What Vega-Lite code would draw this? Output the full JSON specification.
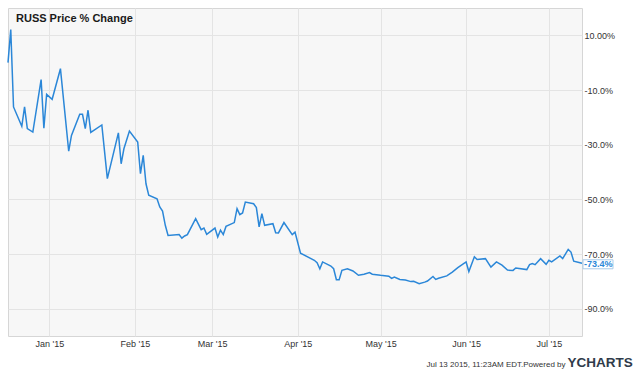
{
  "$schema": "https://vega.github.io/schema/vega-lite/v6.json",
  "width": 574,
  "height": 328,
  "autosize": {"type": "none"},
  "padding": {"left": 8, "top": 8, "right": 58, "bottom": 38},
  "background": "white",
  "config": {
    "view": {"fill": "#f7f7f7", "stroke": "#d6d6d6", "strokeWidth": 1},
    "font": "Liberation Sans"
  },
  "title": {
    "text": "RUSS Price % Change",
    "anchor": "start",
    "frame": "group",
    "orient": "top",
    "offset": -25,
    "dx": 8,
    "fontSize": 11,
    "fontWeight": "bold",
    "color": "#1a1a1a",
    "baseline": "alphabetic",
    "font": "Liberation Sans"
  },
  "data": {
    "values": [
      {"date": "2014-12-17", "pct": 0},
      {"date": "2014-12-18", "pct": 12.1},
      {"date": "2014-12-19", "pct": -16.2},
      {"date": "2014-12-22", "pct": -23.3},
      {"date": "2014-12-23", "pct": -16.2},
      {"date": "2014-12-24", "pct": -24.1},
      {"date": "2014-12-26", "pct": -25.4},
      {"date": "2014-12-29", "pct": -6.2},
      {"date": "2014-12-30", "pct": -24.0},
      {"date": "2014-12-31", "pct": -11.6},
      {"date": "2015-01-02", "pct": -13.4},
      {"date": "2015-01-05", "pct": -2.2},
      {"date": "2015-01-08", "pct": -32.4},
      {"date": "2015-01-09", "pct": -26.6},
      {"date": "2015-01-12", "pct": -18.9},
      {"date": "2015-01-13", "pct": -18.9},
      {"date": "2015-01-14", "pct": -24.1},
      {"date": "2015-01-15", "pct": -17.4},
      {"date": "2015-01-16", "pct": -25.5},
      {"date": "2015-01-20", "pct": -22.8},
      {"date": "2015-01-22", "pct": -42.4},
      {"date": "2015-01-26", "pct": -25.7},
      {"date": "2015-01-27", "pct": -37.0},
      {"date": "2015-01-28", "pct": -31.5},
      {"date": "2015-01-30", "pct": -25.0},
      {"date": "2015-02-02", "pct": -29.0},
      {"date": "2015-02-03", "pct": -40.6},
      {"date": "2015-02-04", "pct": -33.9},
      {"date": "2015-02-05", "pct": -44.3},
      {"date": "2015-02-06", "pct": -48.5},
      {"date": "2015-02-09", "pct": -49.8},
      {"date": "2015-02-10", "pct": -52.8},
      {"date": "2015-02-11", "pct": -54.3},
      {"date": "2015-02-12", "pct": -59.5},
      {"date": "2015-02-13", "pct": -63.2},
      {"date": "2015-02-17", "pct": -62.9},
      {"date": "2015-02-18", "pct": -64.2},
      {"date": "2015-02-19", "pct": -63.4},
      {"date": "2015-02-20", "pct": -62.9},
      {"date": "2015-02-23", "pct": -57.1},
      {"date": "2015-02-25", "pct": -61.1},
      {"date": "2015-02-26", "pct": -60.5},
      {"date": "2015-02-27", "pct": -62.8},
      {"date": "2015-03-02", "pct": -60.5},
      {"date": "2015-03-03", "pct": -63.8},
      {"date": "2015-03-04", "pct": -61.3},
      {"date": "2015-03-05", "pct": -62.9},
      {"date": "2015-03-06", "pct": -59.9},
      {"date": "2015-03-09", "pct": -58.5},
      {"date": "2015-03-10", "pct": -53.4},
      {"date": "2015-03-11", "pct": -55.6},
      {"date": "2015-03-12", "pct": -55.0},
      {"date": "2015-03-13", "pct": -51.0},
      {"date": "2015-03-16", "pct": -51.6},
      {"date": "2015-03-17", "pct": -53.0},
      {"date": "2015-03-18", "pct": -60.1},
      {"date": "2015-03-19", "pct": -55.2},
      {"date": "2015-03-20", "pct": -59.5},
      {"date": "2015-03-23", "pct": -58.9},
      {"date": "2015-03-24", "pct": -62.2},
      {"date": "2015-03-25", "pct": -62.3},
      {"date": "2015-03-27", "pct": -58.5},
      {"date": "2015-03-30", "pct": -62.9},
      {"date": "2015-03-31", "pct": -62.0},
      {"date": "2015-04-02", "pct": -69.7},
      {"date": "2015-04-07", "pct": -72.3},
      {"date": "2015-04-08", "pct": -73.2},
      {"date": "2015-04-09", "pct": -75.4},
      {"date": "2015-04-10", "pct": -72.9},
      {"date": "2015-04-13", "pct": -74.4},
      {"date": "2015-04-14", "pct": -75.4},
      {"date": "2015-04-15", "pct": -79.4},
      {"date": "2015-04-16", "pct": -79.4},
      {"date": "2015-04-17", "pct": -76.0},
      {"date": "2015-04-19", "pct": -75.4},
      {"date": "2015-04-21", "pct": -76.2},
      {"date": "2015-04-23", "pct": -77.8},
      {"date": "2015-04-25", "pct": -77.4},
      {"date": "2015-04-27", "pct": -76.8},
      {"date": "2015-04-28", "pct": -77.4},
      {"date": "2015-05-01", "pct": -77.8},
      {"date": "2015-05-04", "pct": -78.1},
      {"date": "2015-05-05", "pct": -78.9},
      {"date": "2015-05-06", "pct": -78.4},
      {"date": "2015-05-08", "pct": -79.3},
      {"date": "2015-05-10", "pct": -79.5},
      {"date": "2015-05-12", "pct": -80.1},
      {"date": "2015-05-13", "pct": -80.0},
      {"date": "2015-05-15", "pct": -80.9},
      {"date": "2015-05-17", "pct": -80.3},
      {"date": "2015-05-18", "pct": -79.9},
      {"date": "2015-05-20", "pct": -78.2},
      {"date": "2015-05-21", "pct": -79.3},
      {"date": "2015-05-22", "pct": -78.9},
      {"date": "2015-05-25", "pct": -78.0},
      {"date": "2015-05-27", "pct": -76.6},
      {"date": "2015-05-29", "pct": -75.0},
      {"date": "2015-06-01", "pct": -72.9},
      {"date": "2015-06-02", "pct": -76.4},
      {"date": "2015-06-04", "pct": -71.0},
      {"date": "2015-06-05", "pct": -72.0},
      {"date": "2015-06-08", "pct": -71.7},
      {"date": "2015-06-10", "pct": -74.8},
      {"date": "2015-06-12", "pct": -72.9},
      {"date": "2015-06-14", "pct": -74.1},
      {"date": "2015-06-16", "pct": -75.9},
      {"date": "2015-06-18", "pct": -76.0},
      {"date": "2015-06-19", "pct": -75.1},
      {"date": "2015-06-23", "pct": -75.7},
      {"date": "2015-06-24", "pct": -73.9},
      {"date": "2015-06-25", "pct": -73.5},
      {"date": "2015-06-26", "pct": -73.9},
      {"date": "2015-06-28", "pct": -71.7},
      {"date": "2015-06-30", "pct": -73.8},
      {"date": "2015-07-01", "pct": -72.3},
      {"date": "2015-07-02", "pct": -72.9},
      {"date": "2015-07-05", "pct": -70.7},
      {"date": "2015-07-06", "pct": -71.7},
      {"date": "2015-07-08", "pct": -68.3},
      {"date": "2015-07-09", "pct": -69.3},
      {"date": "2015-07-10", "pct": -72.6},
      {"date": "2015-07-13", "pct": -73.4}
    ]
  },
  "encoding": {
    "x": {
      "field": "date",
      "type": "temporal",
      "scale": {
        "type": "utc",
        "domain": [
          {"year": 2014, "month": 12, "date": 17, "utc": true},
          {"year": 2015, "month": 7, "date": 13, "utc": true}
        ]
      },
      "axis": {
        "values": [
          {"year": 2015, "month": 1, "date": 1, "utc": true},
          {"year": 2015, "month": 2, "date": 1, "utc": true},
          {"year": 2015, "month": 3, "date": 1, "utc": true},
          {"year": 2015, "month": 4, "date": 1, "utc": true},
          {"year": 2015, "month": 5, "date": 1, "utc": true},
          {"year": 2015, "month": 6, "date": 1, "utc": true},
          {"year": 2015, "month": 7, "date": 1, "utc": true}
        ],
        "labelExpr": "utcFormat(datum.value, \"%b '%y\")",
        "labelFontSize": 9,
        "labelColor": "#333333",
        "labelFont": "Liberation Sans",
        "labelPadding": 3,
        "ticks": false,
        "domain": false,
        "grid": true,
        "gridColor": "#e4e4e4",
        "title": "Jul 13 2015, 11:23AM EDT.Powered by",
        "titleFont": "Liberation Sans",
        "titleFontSize": 8,
        "titleFontWeight": "normal",
        "titleColor": "#333333",
        "titleAlign": "right",
        "titleAnchor": "start",
        "titleX": 557,
        "titleY": 30,
        "titleBaseline": "alphabetic"
      }
    },
    "y": {
      "field": "pct",
      "type": "quantitative",
      "scale": {"domain": [-100, 20], "nice": false, "zero": false},
      "axis": {
        "orient": "right",
        "values": [10, -10, -30, -50, -70, -90],
        "labelExpr": "datum.value == 10 ? '10.00%' : '-' + format(abs(datum.value), '.1f') + '%'",
        "labelFontSize": 9,
        "labelColor": "#333333",
        "labelFont": "Liberation Sans",
        "labelPadding": 2,
        "ticks": false,
        "domain": false,
        "grid": true,
        "gridColor": "#e4e4e4",
        "title": "YCHARTS",
        "titleFont": "Liberation Sans",
        "titleFontSize": 13.5,
        "titleFontWeight": "bold",
        "titleColor": "#2f3b4a",
        "titleAngle": 0,
        "titleAlign": "left",
        "titleAnchor": "start",
        "titleBaseline": "alphabetic",
        "titleX": -15,
        "titleY": 358.5
      }
    }
  },
  "layer": [
    {
      "mark": {"type": "line", "color": "#2b87d8", "strokeWidth": 1.5}
    },
    {
      "transform": [{"filter": "utcmonth(datum.date) == 6 && utcdate(datum.date) == 13"}],
      "mark": {
        "type": "rect",
        "fill": "white",
        "stroke": "#a9cbe9",
        "strokeWidth": 1,
        "xOffset": 1,
        "x2Offset": 31,
        "yOffset": -3.5,
        "y2Offset": 5.5
      },
      "encoding": {
        "x2": {"field": "date"},
        "y2": {"field": "pct"}
      }
    },
    {
      "transform": [
        {"filter": "utcmonth(datum.date) == 6 && utcdate(datum.date) == 13"},
        {"calculate": "'-' + format(abs(datum.pct), '.1f') + '%'", "as": "label"}
      ],
      "mark": {
        "type": "text",
        "align": "left",
        "baseline": "middle",
        "dx": 2,
        "dy": 1,
        "fontSize": 9,
        "fontWeight": "bold",
        "color": "#2b87d8",
        "font": "Liberation Sans"
      },
      "encoding": {
        "text": {"field": "label"}
      }
    }
  ]
}
